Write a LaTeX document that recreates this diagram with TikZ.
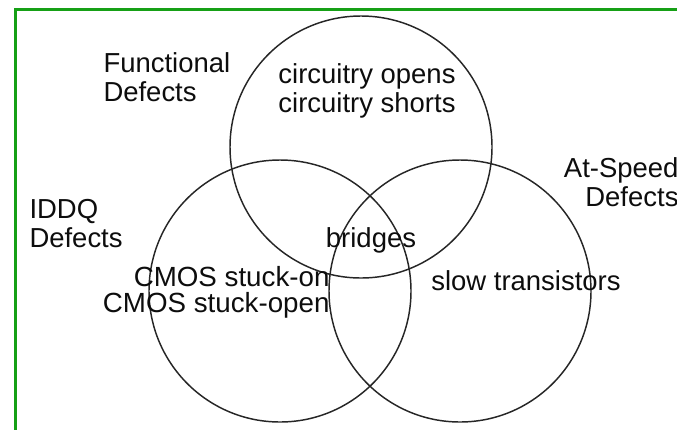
\documentclass[tikz,border=0pt]{standalone}
\usepackage{fontspec}
\setmainfont{Liberation Sans}

\tikzset{every picture/.style={line width=0.75pt}}
\tikzset{venn/.style={draw=black!85,line width=1.1pt,circle,minimum size=262*0.75pt,inner sep=0pt},
         lbl/.style={inner sep=0.75pt,font=\fontsize{20.6}{21.75}\selectfont,text=black!95}}

\begin{document}
\begin{tikzpicture}[x=0.75pt,y=0.75pt,yscale=-1,xscale=1]
\useasboundingbox (0,0) rectangle (677,429);

%Frame
\draw [color={rgb,255:red,22;green,160;blue,22}, line width=2.3pt]  (15.5,440) -- (15.5,9.5) -- (690,9.5) ;

%Shape: Circle
\node (cfun) [venn] at (361,147) {};
%Shape: Circle
\node (ciddq) [venn] at (280,291) {};
%Shape: Circle
\node (cspeed) [venn] at (460,291) {};

% Text Node
\draw (102,77) node (tfun) [anchor=west] [lbl] [align=left] {Functional\\Defects};
% Text Node
\draw (367,91) node (topen) [lbl] [align=center] {circuitry opens\\circuitry shorts};
% Text Node
\draw (680,182) node (tspeed) [anchor=east] [lbl] [align=right] {At-Speed\\Defects};
% Text Node
\draw (28,224) node (tiddq) [anchor=west] [lbl] [align=left] {IDDQ\\Defects};
% Text Node
\draw (371,240) node (tbridge) [lbl] {bridges};
% Text Node
\draw (331,292) node (tcmos) [anchor=east] [lbl,font=\fontsize{20.8}{19.5}\selectfont] [align=right] {CMOS stuck-on\\CMOS stuck-open};
% Text Node
\draw (526,281) node (tslow) [lbl] {slow transistors};

\end{tikzpicture}
\end{document}
